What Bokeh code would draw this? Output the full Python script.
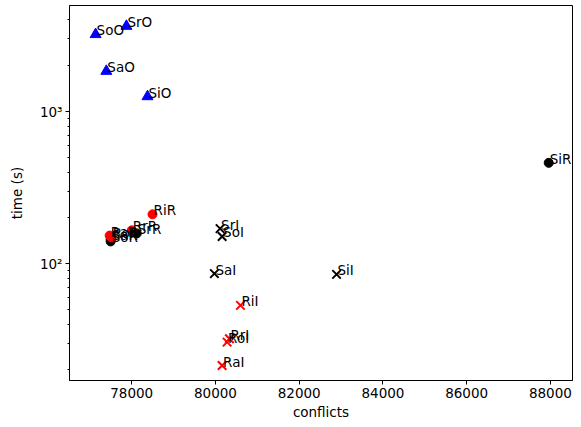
from bokeh.plotting import figure
from bokeh.models import Range1d, FixedTicker, CustomJSTickFormatter
from bokeh.core.properties import value
from bokeh.embed import file_html
from bokeh.resources import INLINE

# black circles (S?R)
sr_labels = ["SoR", "SaR", "SrR", "SiR"]
sr_conf = [77496, 77496, 78120, 87960]
sr_time = [140, 144.5, 158, 460]

# red circles (R?R)
rr_labels = ["RaR", "RoR", "RrR", "RiR"]
rr_conf = [77472, 77520, 78000, 78496]
rr_time = [153, 149, 165.6, 211]

# blue triangles (S?O)
so_labels = ["SoO", "SrO", "SaO", "SiO"]
so_conf = [77137, 77873, 77393, 78376]
so_time = [3213, 3641, 1842, 1255]

# black crosses (S?I)
si_labels = ["SrI", "SoI", "SaI", "SiI"]
si_conf = [80110, 80158, 79974, 82892]
si_time = [170, 151, 86, 85]

# red crosses (R?I)
ri_labels = ["RiI", "RrI", "RoI", "RaI"]
ri_conf = [80597, 80333, 80278, 80158]
ri_time = [53.2, 32.1, 30.5, 21.4]

x_ticks = [78000, 80000, 82000, 84000, 86000, 88000]
y_ticks = [100, 1000]
y_minor = [20, 30, 40, 50, 60, 70, 80, 90, 200, 300, 400, 500, 600, 700, 800, 900, 2000, 3000, 4000]

FONT = "DejaVu Sans"
FS = "13.5px"

p = figure(width=581, height=427, output_backend="svg", toolbar_location=None,
           y_axis_type="log",
           x_range=Range1d(76513, 88528), y_range=Range1d(17.06, 4977),
           min_border_left=69, min_border_right=9, min_border_top=5, min_border_bottom=47)

p.xgrid.visible = False
p.ygrid.visible = False
p.outline_line_color = "black"
p.outline_line_width = 1
p.outline_line_alpha = 1

for ax in (p.xaxis[0], p.yaxis[0]):
    ax.axis_line_color = "black"
    ax.major_tick_line_color = "black"
    ax.minor_tick_line_color = "black"
    ax.major_tick_out = 4
    ax.major_tick_in = 0
    ax.minor_tick_out = 2
    ax.minor_tick_in = 0
    ax.major_label_text_font = FONT
    ax.major_label_text_font_size = FS
    ax.major_label_text_color = "black"
    ax.axis_label_text_font = FONT
    ax.axis_label_text_font_size = FS
    ax.axis_label_text_font_style = "normal"
    ax.axis_label_text_color = "black"
    ax.major_label_standoff = 3

p.xaxis[0].ticker = FixedTicker(ticks=x_ticks, minor_ticks=[])
p.xaxis[0].axis_label = "conflicts"
p.xaxis[0].axis_label_standoff = 3

p.yaxis[0].ticker = FixedTicker(ticks=y_ticks, minor_ticks=y_minor)
p.yaxis[0].formatter = CustomJSTickFormatter(code="""
const e = Math.round(Math.log10(tick));
const sup = {'0':'\u2070','1':'\u00b9','2':'\u00b2','3':'\u00b3','4':'\u2074','5':'\u2075','6':'\u2076','7':'\u2077','8':'\u2078','9':'\u2079'};
return '10' + String(e).split('').map(c => sup[c]).join('');
""")
p.yaxis[0].axis_label = "time (s)"
p.yaxis[0].axis_label_standoff = 12

series = [
    (sr_labels, sr_conf, sr_time, "circle", "black"),
    (rr_labels, rr_conf, rr_time, "circle", "red"),
    (so_labels, so_conf, so_time, "triangle", "blue"),
    (si_labels, si_conf, si_time, "x", "black"),
    (ri_labels, ri_conf, ri_time, "x", "red"),
]

for labels, xs, ys, marker, color in series:
    if marker == "x":
        p.scatter(xs, ys, marker="x", size=12, line_color=color, line_width=2)
    elif marker == "triangle":
        p.scatter(xs, ys, marker="triangle", size=11, fill_color=color, line_color=color)
    else:
        p.scatter(xs, ys, marker="circle", size=9, fill_color=color, line_color=color)

for labels, xs, ys, marker, color in series:
    p.text(xs, ys, text=labels, text_align="left", text_baseline="alphabetic",
           x_offset=1, y_offset=-4,
           text_font=value(FONT), text_font_size=FS, text_color="black")

open("out.html", "w").write(file_html(p, INLINE))
